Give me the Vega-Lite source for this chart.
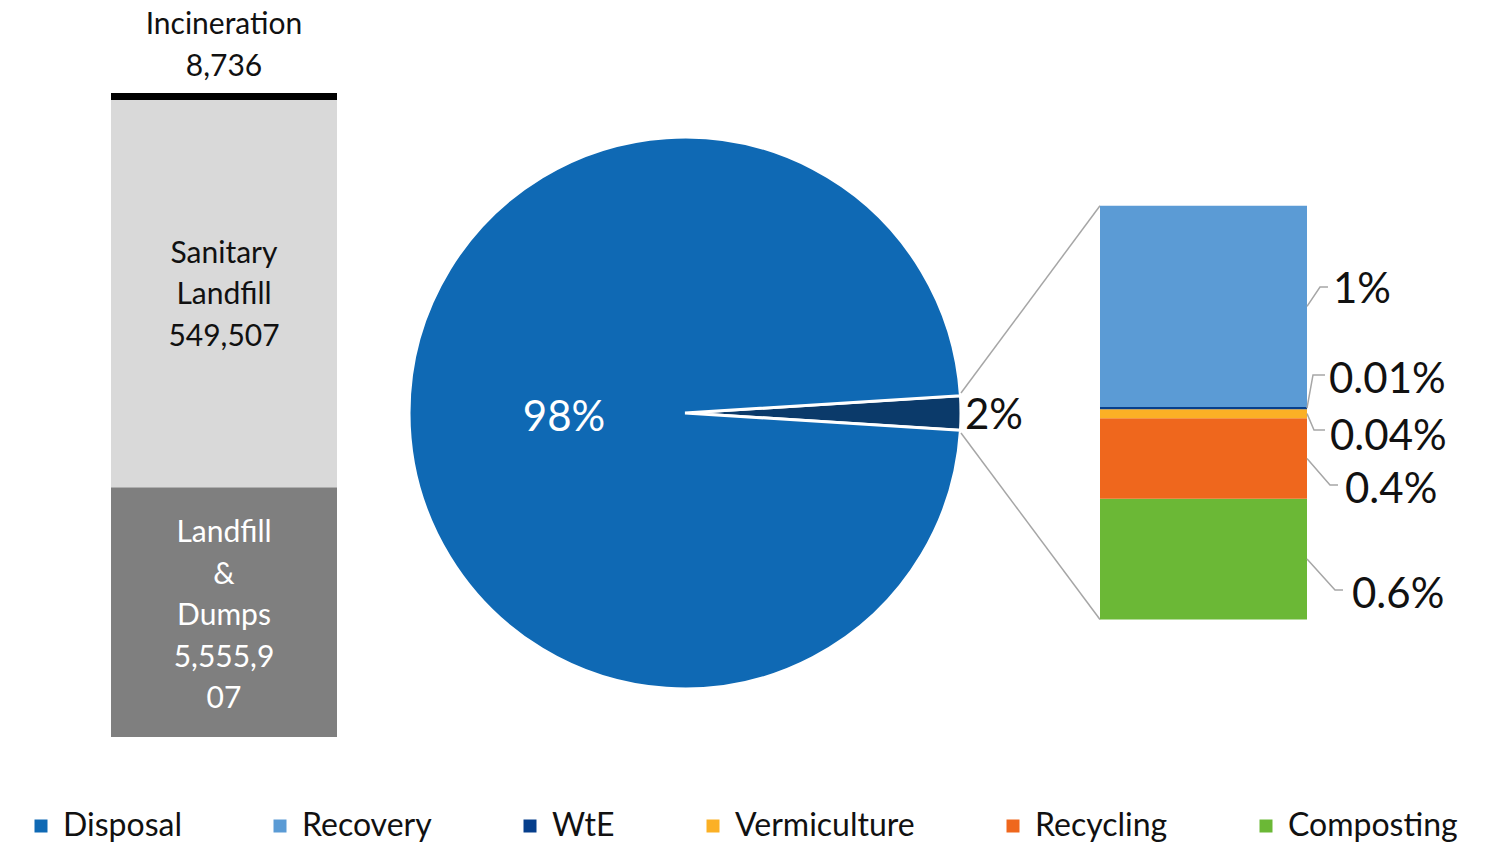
{
  "$schema": "https://vega.github.io/schema/vega-lite/v6.json",
  "width": 1498,
  "height": 846,
  "autosize": {"type": "none"},
  "padding": 0,
  "background": "white",
  "config": {
    "font": "Lato",
    "view": {"stroke": null},
    "legend": {
      "orient": "none",
      "legendX": 25,
      "legendY": 810,
      "direction": "horizontal",
      "columns": 6,
      "columnPadding": 82,
      "symbolType": "square",
      "symbolSize": 169,
      "symbolStrokeWidth": 0,
      "symbolOpacity": 1,
      "labelFont": "Lato",
      "labelFontSize": 32,
      "labelColor": "#111111",
      "labelOffset": 6,
      "labelLimit": 500,
      "padding": 0,
      "rowPadding": 0
    }
  },
  "datasets": {
    "disposal_bar": [
      {"segment": "Landfill & Dumps", "tonnes": 5555907, "bar_share": 0.388, "rank": 1, "label": ["Landfill", "&", "Dumps", "5,555,9", "07"]},
      {"segment": "Sanitary Landfill", "tonnes": 549507, "bar_share": 0.601, "rank": 2, "label": ["Sanitary", "Landfill", "549,507"]},
      {"segment": "Incineration", "tonnes": 8736, "bar_share": 0.011, "rank": 3, "label": ["Incineration", "8,736"]}
    ],
    "split": [
      {"category": "Recovery total", "pct": 2, "rank": 1, "label": "2%"},
      {"category": "Disposal", "pct": 98, "rank": 2, "label": "98%"}
    ],
    "recovery": [
      {"category": "Composting", "pct": 0.6, "rank": 1},
      {"category": "Recycling", "pct": 0.4, "rank": 2},
      {"category": "Vermiculture", "pct": 0.045, "rank": 3},
      {"category": "WtE", "pct": 0.01, "rank": 4},
      {"category": "Recovery", "pct": 1.0, "rank": 5}
    ],
    "connectors": [
      {"edge": "top", "x": -0.6715, "y": 1.1252, "x2": 0, "y2": 2.055},
      {"edge": "bottom", "x": -0.6715, "y": 0.9265, "x2": 0, "y2": 0}
    ],
    "leaders": [
      {"label": "1%", "step": 1, "x": 1.0, "y": 1.555},
      {"label": "1%", "step": 2, "x": 1.0628, "y": 1.6518},
      {"label": "1%", "step": 3, "x": 1.1014, "y": 1.6518},
      {"label": "0.01%", "step": 1, "x": 1.0, "y": 1.05},
      {"label": "0.01%", "step": 2, "x": 1.029, "y": 1.2146},
      {"label": "0.01%", "step": 3, "x": 1.087, "y": 1.2146},
      {"label": "0.04%", "step": 1, "x": 1.0, "y": 1.0225},
      {"label": "0.04%", "step": 2, "x": 1.0338, "y": 0.9414},
      {"label": "0.04%", "step": 3, "x": 1.087, "y": 0.9414},
      {"label": "0.4%", "step": 1, "x": 1.0, "y": 0.8},
      {"label": "0.4%", "step": 2, "x": 1.1111, "y": 0.6682},
      {"label": "0.4%", "step": 3, "x": 1.1498, "y": 0.6682},
      {"label": "0.6%", "step": 1, "x": 1.0, "y": 0.3},
      {"label": "0.6%", "step": 2, "x": 1.1353, "y": 0.1465},
      {"label": "0.6%", "step": 3, "x": 1.1739, "y": 0.1465}
    ],
    "labels": [
      {"text": "1%", "x": 1.1256, "y": 1.6369},
      {"text": "0.01%", "x": 1.1063, "y": 1.1898},
      {"text": "0.04%", "x": 1.1111, "y": 0.9066},
      {"text": "0.4%", "x": 1.1836, "y": 0.6434},
      {"text": "0.6%", "x": 1.2174, "y": 0.1217}
    ]
  },
  "layer": [
    {
      "data": {"name": "disposal_bar"},
      "layer": [
        {
          "mark": {"type": "bar"},
          "encoding": {
            "x": {"datum": "Disposal", "type": "nominal", "scale": {"range": [111, 337], "paddingInner": 0, "paddingOuter": 0}, "axis": null},
            "y": {"field": "bar_share", "type": "quantitative", "stack": "zero", "scale": {"domain": [0, 1], "range": [737, 93], "nice": false, "zero": false}, "axis": null},
            "fill": {"field": "segment", "type": "nominal", "scale": {"domain": ["Landfill & Dumps", "Sanitary Landfill", "Incineration"], "range": ["#7f7f7f", "#d9d9d9", "#000000"]}, "legend": null},
            "order": {"field": "rank", "type": "quantitative"}
          }
        },
        {
          "mark": {"type": "text", "align": "center", "baseline": "middle", "fontSize": 30, "lineHeight": 41.5, "dy": -79, "color": "white"},
          "encoding": {
            "x": {"datum": "Disposal", "type": "nominal", "scale": {"range": [111, 337], "paddingInner": 0, "paddingOuter": 0}, "axis": null},
            "y": {"field": "bar_share", "type": "quantitative", "stack": "zero", "bandPosition": 0.5, "scale": {"domain": [0, 1], "range": [737, 93], "nice": false, "zero": false}, "axis": null},
            "detail": {"field": "segment", "type": "nominal"},
            "order": {"field": "rank", "type": "quantitative"},
            "text": {"condition": {"test": "datum.segment === 'Landfill & Dumps'", "field": "label"}, "value": ""}
          }
        },
        {
          "mark": {"type": "text", "align": "center", "baseline": "middle", "fontSize": 30, "lineHeight": 41.5, "dy": -40, "color": "#111111"},
          "encoding": {
            "x": {"datum": "Disposal", "type": "nominal", "scale": {"range": [111, 337], "paddingInner": 0, "paddingOuter": 0}, "axis": null},
            "y": {"field": "bar_share", "type": "quantitative", "stack": "zero", "bandPosition": 0.5, "scale": {"domain": [0, 1], "range": [737, 93], "nice": false, "zero": false}, "axis": null},
            "detail": {"field": "segment", "type": "nominal"},
            "order": {"field": "rank", "type": "quantitative"},
            "text": {"condition": {"test": "datum.segment === 'Sanitary Landfill'", "field": "label"}, "value": ""}
          }
        },
        {
          "mark": {"type": "text", "align": "center", "baseline": "bottom", "fontSize": 30, "lineHeight": 41.5, "dy": -53, "color": "#111111"},
          "encoding": {
            "x": {"datum": "Disposal", "type": "nominal", "scale": {"range": [111, 337], "paddingInner": 0, "paddingOuter": 0}, "axis": null},
            "y": {"field": "bar_share", "type": "quantitative", "stack": "zero", "scale": {"domain": [0, 1], "range": [737, 93], "nice": false, "zero": false}, "axis": null},
            "detail": {"field": "segment", "type": "nominal"},
            "order": {"field": "rank", "type": "quantitative"},
            "text": {"condition": {"test": "datum.segment === 'Incineration'", "field": "label"}, "value": ""}
          }
        }
      ]
    },
    {
      "data": {"name": "split"},
      "layer": [
        {
          "mark": {"type": "arc", "outerRadius": 276, "stroke": "white", "strokeWidth": 3},
          "encoding": {
            "x": {"datum": 0, "type": "quantitative", "scale": {"domain": [-1, 1], "range": [410, 960], "nice": false, "zero": false}, "axis": null},
            "y": {"datum": 0, "type": "quantitative", "scale": {"domain": [-1, 1], "range": [688, 138], "nice": false, "zero": false}, "axis": null},
            "theta": {"field": "pct", "type": "quantitative", "stack": true, "scale": {"range": [1.50796, 7.79115]}},
            "color": {
              "field": "category", "type": "nominal",
              "scale": {"domain": ["Disposal", "Recovery", "WtE", "Vermiculture", "Recycling", "Composting", "Recovery total"], "range": ["#0f69b4", "#5b9bd5", "#063f8c", "#fbb025", "#ef671d", "#6bb836", "#0b3a6a"]},
              "legend": {"title": null, "values": ["Disposal", "Recovery", "WtE", "Vermiculture", "Recycling", "Composting"]}
            },
            "order": {"field": "rank", "type": "quantitative"}
          }
        },
        {
          "mark": {"type": "text", "radius": 121, "align": "center", "baseline": "middle", "fontSize": 42, "dy": 5, "color": "white"},
          "encoding": {
            "x": {"datum": 0, "type": "quantitative", "scale": {"domain": [-1, 1], "range": [410, 960], "nice": false, "zero": false}, "axis": null},
            "y": {"datum": 0, "type": "quantitative", "scale": {"domain": [-1, 1], "range": [688, 138], "nice": false, "zero": false}, "axis": null},
            "theta": {"field": "pct", "type": "quantitative", "stack": true, "scale": {"range": [1.50796, 7.79115]}},
            "order": {"field": "rank", "type": "quantitative"},
            "text": {"condition": {"test": "datum.pct > 50", "field": "label"}, "value": ""}
          }
        },
        {
          "mark": {"type": "text", "radius": 309, "align": "center", "baseline": "middle", "fontSize": 42, "dy": 3, "color": "#111111"},
          "encoding": {
            "x": {"datum": 0, "type": "quantitative", "scale": {"domain": [-1, 1], "range": [410, 960], "nice": false, "zero": false}, "axis": null},
            "y": {"datum": 0, "type": "quantitative", "scale": {"domain": [-1, 1], "range": [688, 138], "nice": false, "zero": false}, "axis": null},
            "theta": {"field": "pct", "type": "quantitative", "stack": true, "scale": {"range": [1.50796, 7.79115]}},
            "order": {"field": "rank", "type": "quantitative"},
            "text": {"condition": {"test": "datum.pct < 50", "field": "label"}, "value": ""}
          }
        }
      ]
    },
    {
      "layer": [
        {
          "data": {"name": "connectors"},
          "mark": {"type": "rule", "color": "#a6a6a6", "strokeWidth": 1.5},
          "encoding": {
            "x": {"field": "x", "type": "quantitative", "scale": {"domain": [0, 1], "range": [1100, 1307], "nice": false, "zero": false}, "axis": null},
            "x2": {"field": "x2"},
            "y": {"field": "y", "type": "quantitative", "scale": {"domain": [0, 2.055], "range": [619.5, 205.8], "nice": false, "zero": false}, "axis": null},
            "y2": {"field": "y2"}
          }
        },
        {
          "data": {"name": "recovery"},
          "transform": [
            {"stack": "pct", "groupby": [], "sort": [{"field": "rank", "order": "ascending"}], "as": ["pct_start", "pct_end"]}
          ],
          "mark": {"type": "rect"},
          "encoding": {
            "x": {"datum": 0, "type": "quantitative", "scale": {"domain": [0, 1], "range": [1100, 1307], "nice": false, "zero": false}, "axis": null},
            "x2": {"datum": 1},
            "y": {"field": "pct_start", "type": "quantitative", "scale": {"domain": [0, 2.055], "range": [619.5, 205.8], "nice": false, "zero": false}, "axis": null},
            "y2": {"field": "pct_end"},
            "color": {
              "field": "category", "type": "nominal",
              "scale": {"domain": ["Disposal", "Recovery", "WtE", "Vermiculture", "Recycling", "Composting", "Recovery total"], "range": ["#0f69b4", "#5b9bd5", "#063f8c", "#fbb025", "#ef671d", "#6bb836", "#0b3a6a"]},
              "legend": {"title": null, "values": ["Disposal", "Recovery", "WtE", "Vermiculture", "Recycling", "Composting"]}
            }
          }
        },
        {
          "data": {"name": "leaders"},
          "mark": {"type": "line", "color": "#a6a6a6", "strokeWidth": 1.5},
          "encoding": {
            "x": {"field": "x", "type": "quantitative", "scale": {"domain": [0, 1], "range": [1100, 1307], "nice": false, "zero": false}, "axis": null},
            "y": {"field": "y", "type": "quantitative", "scale": {"domain": [0, 2.055], "range": [619.5, 205.8], "nice": false, "zero": false}, "axis": null},
            "detail": {"field": "label", "type": "nominal"},
            "order": {"field": "step", "type": "quantitative"}
          }
        },
        {
          "data": {"name": "labels"},
          "mark": {"type": "text", "align": "left", "baseline": "middle", "fontSize": 42, "color": "#111111"},
          "encoding": {
            "x": {"field": "x", "type": "quantitative", "scale": {"domain": [0, 1], "range": [1100, 1307], "nice": false, "zero": false}, "axis": null},
            "y": {"field": "y", "type": "quantitative", "scale": {"domain": [0, 2.055], "range": [619.5, 205.8], "nice": false, "zero": false}, "axis": null},
            "text": {"field": "text"}
          }
        }
      ]
    }
  ],
  "resolve": {"scale": {"x": "independent", "y": "independent"}}
}
